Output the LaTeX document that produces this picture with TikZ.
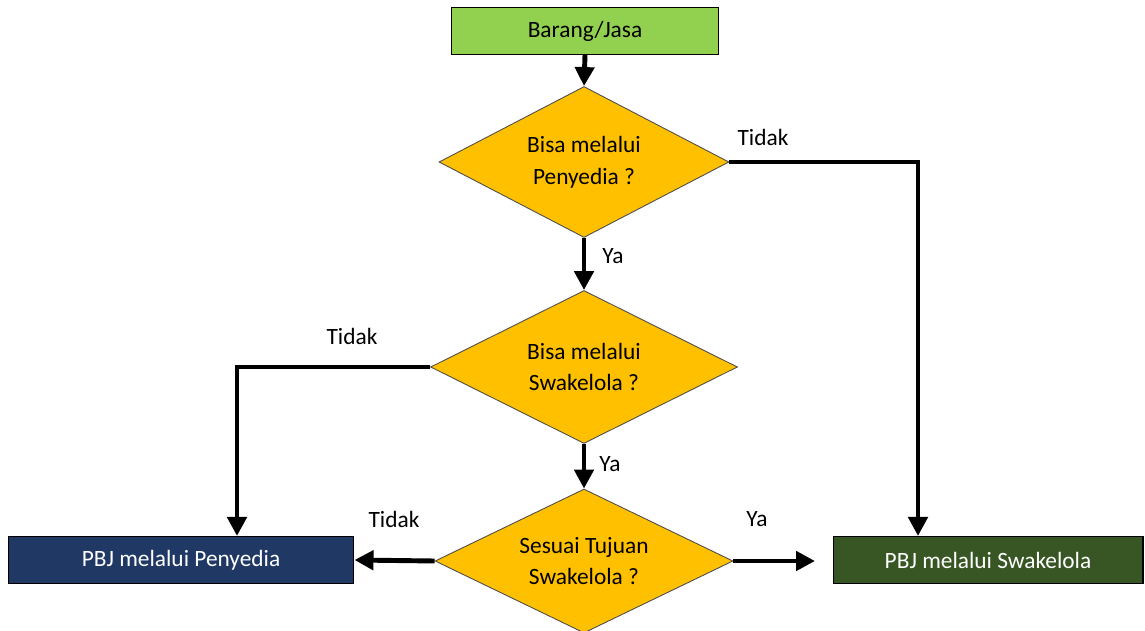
\documentclass[tikz,border=0pt]{standalone}
\usepackage{fontspec}
\setmainfont{Carlito}
\usepackage{xcolor}
\usetikzlibrary{shapes.geometric,arrows.meta}

\definecolor{hijau}{HTML}{92D050}
\definecolor{kuning}{HTML}{FFC000}
\definecolor{biru}{HTML}{203864}
\definecolor{hijautua}{HTML}{375623}

\tikzset{
	kotak/.style={draw=black, line width=0.6pt, minimum height=0.94cm, inner sep=0pt, font=\fontsize{13.3}{16}\selectfont},
	tanya/.style={diamond, aspect=2, draw=black!70, line width=0.5pt, fill=kuning, inner sep=0pt, align=center, font=\fontsize{13.3}{18}\selectfont},
	panah/.style={line width=2.8pt, -{Triangle[width=0.38cm,length=0.38cm]}},
	ket/.style={font=\fontsize{13.3}{16}\selectfont}
}

\begin{document}
\begin{tikzpicture}[x=0.02cm, y=-0.02cm]
			% 画布范围
			\useasboundingbox (0,0) rectangle (1145,631);
			\clip (0,0) rectangle (1145,631);
			% 起点
			\node[kotak, fill=hijau, minimum width=5.34cm] (barang) at (585,31) {Barang/Jasa};
			% 判断框
			\node[tanya, minimum width=5.8cm, minimum height=3.02cm] (q1) at (584,162) {Bisa melalui\\Penyedia ?};
			\node[tanya, minimum width=6.14cm, minimum height=3.06cm] (q2) at (584,367) {Bisa melalui\\Swakelola ?};
			\node[tanya, minimum width=5.96cm, minimum height=2.88cm] (q3) at (584,561) {Sesuai Tujuan\\Swakelola ?};
			% 结果
			\node[kotak, fill=biru, text=white, minimum width=6.92cm] (penyedia) at (181,560) {PBJ melalui Penyedia};
			\node[kotak, fill=hijautua, text=white, minimum width=6.2cm] (swakelola) at (988,560) {PBJ melalui Swakelola};
			% 转折点
			\coordinate (k1) at (918,162);
			\coordinate (k2) at (237,367);
			\coordinate (ujung) at (815,561);
			% 连线
			\draw[panah] (barang.south) -- (q1.north);
			\draw[panah] (q1.south) -- (q2.north);
			\draw[panah] (q2.south) -- (q3.north);
			\draw[panah] (q1.east) -- (k1) -- (k1 |- swakelola.north);
			\draw[panah] (q2.west) -- (k2) -- (k2 |- penyedia.north);
			\draw[panah] (q3.west) -- (penyedia.east);
			\draw[panah] (q3.east) -- (ujung);
			% 标签
			\node[ket] (t1) at (763,137) {Tidak};
			\node[ket] (y1) at (613,256) {Ya};
			\node[ket] (t2) at (352,336) {Tidak};
			\node[ket] (y2) at (610,464) {Ya};
			\node[ket] (t3) at (394,519) {Tidak};
			\node[ket] (y3) at (757,519) {Ya};
		\end{tikzpicture}
\end{document}
